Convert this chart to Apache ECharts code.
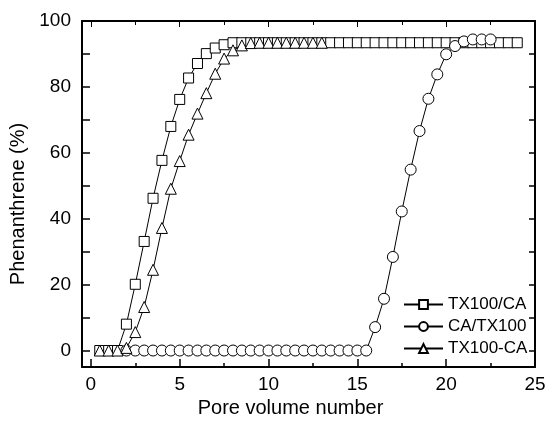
<!DOCTYPE html>
<html>
<head>
<meta charset="utf-8">
<script src="https://cdn.jsdelivr.net/npm/echarts@6/dist/echarts.min.js"></script>
<style>
html,body{margin:0;padding:0;background:#fff;}
#c{width:553px;height:426px;}
</style>
</head>
<body>
<div id="c"></div>
<script>
// ---- data ----
const seriesNames = ['TX100/CA', 'CA/TX100', 'TX100-CA'];

const sqX = [0.5,1,1.5,2,2.5,3,3.5,4,4.5,5,5.5,6,6.5,7,7.5,8,8.5,9,9.5,10,10.5,11,11.5,12,12.5,13,13.5,14,14.5,15,15.5,16,16.5,17,17.5,18,18.5,19,19.5,20,20.5,21,21.5,22,22.5,23,23.5,24];
const sqY = [0,0,0,8.0,20.1,33.1,46.2,57.7,68.0,76.2,82.7,87.1,90.1,91.8,92.8,93.4,93.4,93.4,93.4,93.4,93.4,93.4,93.4,93.4,93.4,93.4,93.4,93.4,93.4,93.4,93.4,93.4,93.4,93.4,93.4,93.4,93.4,93.4,93.4,93.4,93.4,93.4,93.4,93.4,93.4,93.4,93.4,93.4];

const ciX = [2,2.5,3,3.5,4,4.5,5,5.5,6,6.5,7,7.5,8,8.5,9,9.5,10,10.5,11,11.5,12,12.5,13,13.5,14,14.5,15,15.5,16,16.5,17,17.5,18,18.5,19,19.5,20,20.5,21,21.5,22,22.5];
const ciY = [0,0,0,0,0,0,0,0,0,0,0,0,0,0,0,0,0,0,0,0,0,0,0,0,0,0,0,0,7.1,15.7,28.4,42.2,54.9,66.6,76.4,83.8,89.9,92.4,93.8,94.4,94.4,94.4];

const trX = [0.5,1,1.5,2,2.5,3,3.5,4,4.5,5,5.5,6,6.5,7,7.5,8,8.5,9,9.5,10,10.5,11,11.5,12,12.5,13];
const trY = [0,0,0,0.8,5.6,13.2,24.5,37.2,49.1,57.5,65.5,71.9,78.1,84.0,88.6,91.1,92.6,93.3,93.4,93.4,93.4,93.4,93.4,93.4,93.4,93.4];

const xTickLabels = [0, 5, 10, 15, 20, 25];
const xMinorTicks = [2.5, 7.5, 12.5, 17.5, 22.5];
const yTickLabels = [0, 20, 40, 60, 80, 100];
const yTicks = [0, 10, 20, 30, 40, 50, 60, 70, 80, 90, 100];

// ---- chart ----
const zip = (xs, ys) => xs.map((x, i) => [x, ys[i]]);
const FONT = "'Liberation Sans', Arial, sans-serif";
const chart = echarts.init(document.getElementById('c'), null, {renderer: 'canvas'});

const axLine = {show: true, onZero: false, lineStyle: {color: '#000', width: 2}};
const noLine = {show: false, onZero: false};
const xBase = {type: 'value', min: -0.5, max: 25, gridIndex: 0, splitLine: {show: false}};
const yBase = {type: 'value', min: -5, max: 100, gridIndex: 0, splitLine: {show: false}};

function mkSeries(name, data, symbol, size) {
  return {
    name, type: 'line', data, symbol, symbolSize: size, showAllSymbol: true,
    xAxisIndex: 0, yAxisIndex: 0,
    lineStyle: {color: '#000', width: 1},
    itemStyle: {color: '#fff', borderColor: '#000', borderWidth: 1},
    emphasis: {disabled: true}, animation: false
  };
}

chart.setOption({
  animation: false,
  backgroundColor: '#fff',
  textStyle: {fontFamily: FONT, color: '#000'},
  grid: {left: 82, right: 18, top: 21, bottom: 59, containLabel: false},
  legend: {
    orient: 'vertical', left: 403, top: 296, padding: 0,
    itemWidth: 39, itemHeight: 11, itemGap: 5,
    data: seriesNames,
    textStyle: {fontFamily: FONT, fontSize: 17, color: '#000'}
  },
  xAxis: [
    Object.assign({}, xBase, {
      position: 'bottom', axisLine: axLine,
      axisTick: {inside: true, length: 8, customValues: xTickLabels, lineStyle: {color: '#000', width: 1.5}},
      axisLabel: {fontFamily: FONT, fontSize: 19, color: '#000', margin: 8, customValues: xTickLabels},
      name: 'Pore volume number', nameLocation: 'middle', nameGap: 29,
      nameTextStyle: {fontFamily: FONT, fontSize: 20, color: '#000', padding: [0, 36, 0, 0]}
    }),
    Object.assign({}, xBase, {
      position: 'bottom', axisLine: noLine,
      axisTick: {inside: true, length: 4, customValues: xMinorTicks, lineStyle: {color: '#000', width: 1.5}},
      axisLabel: {show: false}
    }),
    Object.assign({}, xBase, {
      position: 'top', axisLine: axLine,
      axisTick: {inside: true, length: 6, customValues: xTickLabels, lineStyle: {color: '#000', width: 1}},
      axisLabel: {show: false}
    }),
    Object.assign({}, xBase, {
      position: 'top', axisLine: noLine,
      axisTick: {inside: true, length: 4, customValues: xMinorTicks, lineStyle: {color: '#000', width: 1}},
      axisLabel: {show: false}
    })
  ],
  yAxis: [
    Object.assign({}, yBase, {
      position: 'left', axisLine: axLine,
      axisTick: {inside: true, length: 8, customValues: yTicks, lineStyle: {color: '#000', width: 1.5}},
      axisLabel: {fontFamily: FONT, fontSize: 19, color: '#000', margin: 11, customValues: yTickLabels},
      name: 'Phenanthrene (%)', nameLocation: 'middle', nameGap: 45,
      nameTextStyle: {fontFamily: FONT, fontSize: 20, color: '#000', padding: [0, 20, 0, 0]}
    }),
    Object.assign({}, yBase, {
      position: 'right', axisLine: axLine,
      axisTick: {inside: true, length: 6, customValues: yTicks, lineStyle: {color: '#000', width: 1.5}},
      axisLabel: {show: false}
    })
  ],
  series: [
    mkSeries('TX100/CA', zip(sqX, sqY), 'rect', 10),
    mkSeries('CA/TX100', zip(ciX, ciY), 'circle', 11),
    mkSeries('TX100-CA', zip(trX, trY), 'triangle', 11)
  ]
});
</script>
</body>
</html>
